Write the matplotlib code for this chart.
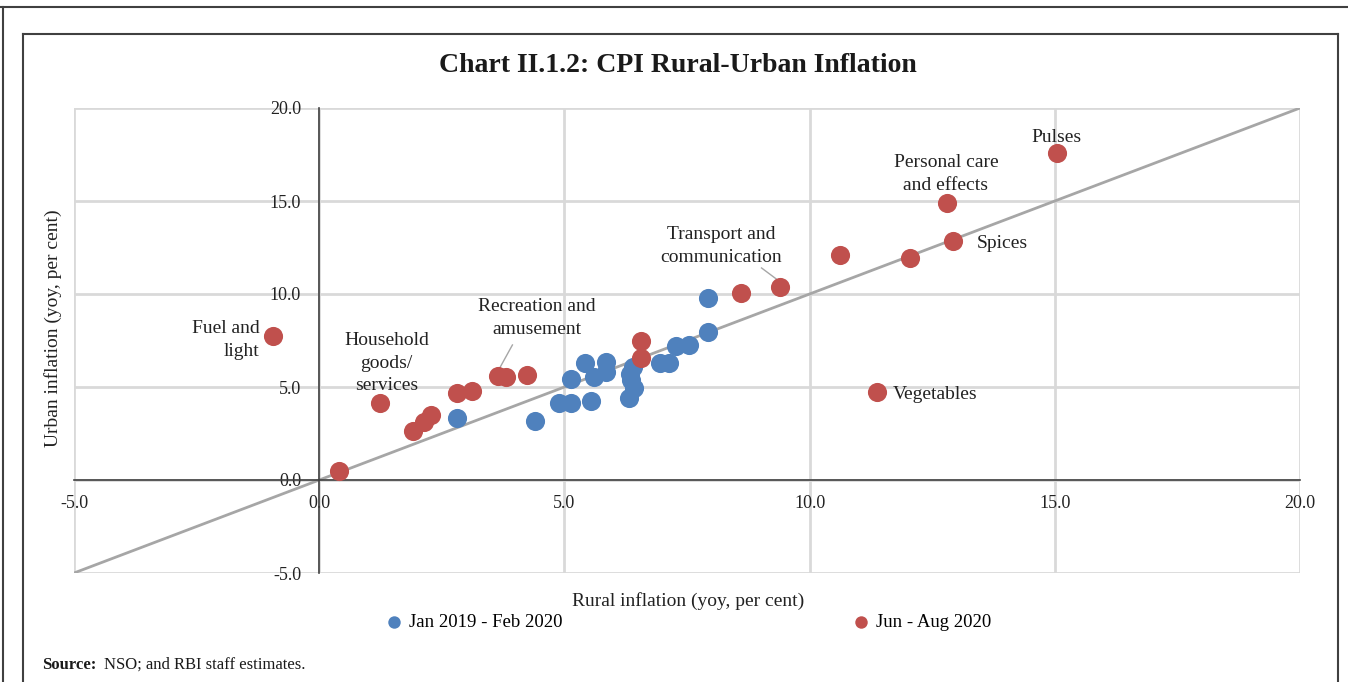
import matplotlib
matplotlib.use("Agg")
import matplotlib.pyplot as plt
from matplotlib.lines import Line2D

plt.rcParams['font.family'] = ['Liberation Serif', 'DejaVu Serif']

# Jan 2019 - Feb 2020 (rural, urban)
blue_x = [2.80, 4.41, 4.90, 5.14, 5.14, 5.41, 5.54, 5.61, 5.84, 5.85,
          6.31, 6.33, 6.36, 6.39, 6.41, 6.94, 7.14, 7.27, 7.55, 7.92, 7.92]
blue_y = [3.33, 3.19, 4.16, 4.12, 5.41, 6.31, 4.27, 5.52, 6.36, 5.82,
          4.39, 5.70, 5.38, 6.06, 4.93, 6.31, 6.31, 7.22, 7.26, 7.97, 9.77]

# Jun - Aug 2020 (rural, urban)
red_x = [-0.94, 0.41, 1.24, 1.92, 2.14, 2.27, 2.82, 3.12, 3.65, 3.80, 4.24,
         6.57, 6.57, 8.61, 9.39, 10.61, 12.04, 12.80, 12.92, 11.37, 15.04]
red_y = [7.74, 0.48, 4.14, 2.63, 3.12, 3.49, 4.68, 4.78, 5.59, 5.54, 5.65,
         7.47, 6.56, 10.05, 10.38, 12.10, 11.94, 14.89, 12.85, 4.73, 17.58]

ticks = [-5, 0, 5, 10, 15, 20]

blue = '#4f81bd'
red = '#c0504d'

fig = plt.figure(figsize=(13.48, 6.82), dpi=100)
ax = fig.add_axes([74 / 1348, 1 - 573 / 682, (1300 - 74) / 1348, (573 - 108) / 682])

ax.set_xlim(-5, 20)
ax.set_ylim(-5, 20)
ax.set_xticks(ticks)
ax.set_yticks(ticks)
ax.set_xticklabels(['%.1f' % t for t in ticks])
ax.set_yticklabels(['%.1f' % t for t in ticks])
ax.tick_params(length=0, labelsize=13, colors='#222222')
ax.tick_params(axis='x', pad=11)
ax.tick_params(axis='y', pad=13)

ax.grid(True, color='#d9d9d9', lw=2)
for gl in ax.get_xgridlines() + ax.get_ygridlines():
    gl.set_clip_on(False)
ax.set_axisbelow(True)

ax.spines['left'].set_position(('data', 0))
ax.spines['bottom'].set_position(('data', 0))
ax.spines['left'].set_color('#404040')
ax.spines['bottom'].set_color('#404040')
ax.spines['left'].set_linewidth(1.2)
ax.spines['bottom'].set_linewidth(1.2)
ax.spines['top'].set_visible(False)
ax.spines['right'].set_visible(False)

# 45 degree line
ax.plot([-5, 20], [-5, 20], color='#a6a6a6', lw=2, zorder=2)

ax.scatter(blue_x, blue_y, s=190, color=blue, zorder=3, label='Jan 2019 - Feb 2020', linewidths=0)
ax.scatter(red_x, red_y, s=190, color=red, zorder=3, label='Jun - Aug 2020', linewidths=0)

lab = dict(fontsize=14, color='#222222', linespacing=1.4)
ax.text(-1.22, 7.53, 'Fuel and\nlight', ha='right', va='center', **lab)
ax.text(1.37, 6.29, 'Household\ngoods/\nservices', ha='center', va='center', **lab)
ax.text(4.43, 8.71, 'Recreation and\namusement', ha='center', va='center', **lab)
ax.plot([3.94, 3.67], [7.26, 5.97], color='#a6a6a6', lw=1)
ax.text(8.20, 12.58, 'Transport and\ncommunication', ha='center', va='center', **lab)
ax.plot([9.02, 9.35], [11.4, 10.75], color='#a6a6a6', lw=1)
ax.text(12.78, 16.45, 'Personal care\nand effects', ha='center', va='center', **lab)
ax.text(15.04, 18.44, 'Pulses', ha='center', va='center', **lab)
ax.text(13.41, 12.74, 'Spices', ha='left', va='center', **lab)
ax.text(11.69, 4.62, 'Vegetables', ha='left', va='center', **lab)

fig.text(53 / 1348, 1 - 328 / 682, 'Urban inflation (yoy, per cent)', rotation=90,
         ha='center', va='center', fontsize=14, color='#222222')
fig.text(688 / 1348, 1 - 601 / 682, 'Rural inflation (yoy, per cent)',
         ha='center', va='center', fontsize=14, color='#222222')

ax.legend(loc='center', bbox_to_anchor=(0.5, (622 - 573) / (108 - 573)), ncol=2,
          frameon=False, fontsize=13.5, columnspacing=15.35, handlelength=1.2,
          handletextpad=0.2, scatterpoints=1, markerscale=0.65, borderaxespad=0)

fig.text(678 / 1348, 1 - 65 / 682, 'Chart II.1.2: CPI Rural-Urban Inflation',
         ha='center', va='center', fontsize=20, fontweight='bold', color='#1a1a1a')

fig.text(42 / 1348, 1 - 665 / 682, 'Source:', ha='left', va='center',
         fontsize=12, fontweight='bold', color='#1a1a1a')
fig.text(104 / 1348, 1 - 665 / 682, 'NSO; and RBI staff estimates.', ha='left', va='center',
         fontsize=12, color='#1a1a1a')

# frames around the chart
def fline(xs, ys):
    fig.add_artist(Line2D([x / 1348 for x in xs], [1 - y / 682 for y in ys],
                          transform=fig.transFigure, color='#404040', lw=1.5))

fline([0, 1348], [7, 7])
fline([3, 3], [7, 682])
fline([23, 1338], [34, 34])
fline([23, 23], [34, 682])
fline([1338, 1338], [34, 682])

fig.savefig('out.png', dpi=100)
